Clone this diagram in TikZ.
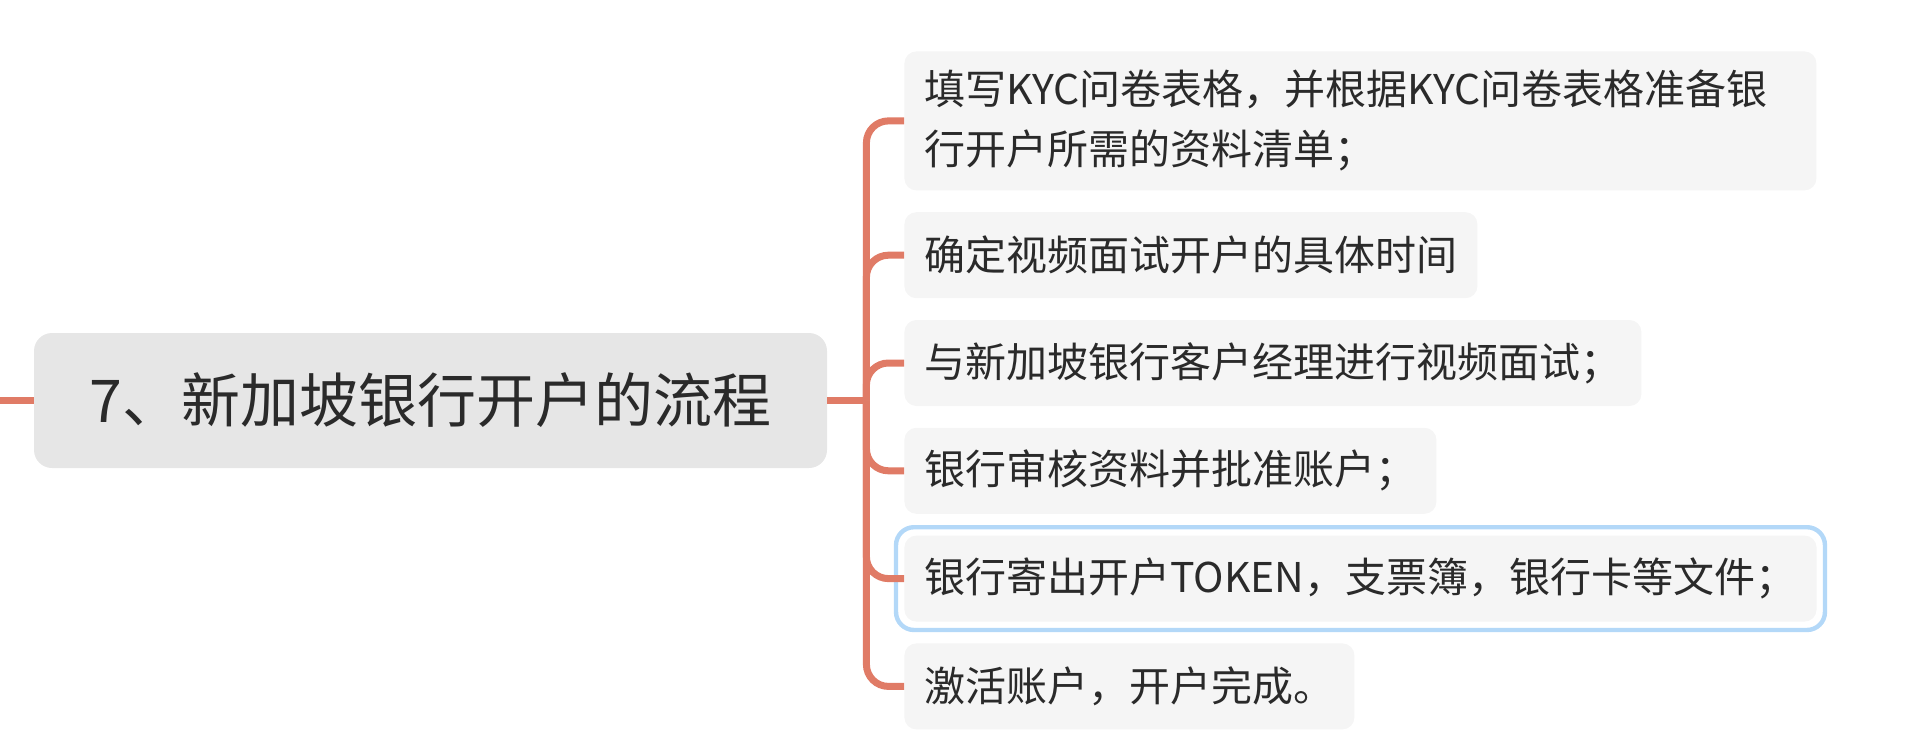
\documentclass[tikz,border=0pt]{standalone}
\usepackage{fontspec}
\usepackage{xcolor}
\usepackage{tikz}
\usetikzlibrary{positioning,fit}
\newfontfamily\cjkfont{Noto Sans CJK SC}
\definecolor{bankSalmon}{HTML}{E07B66}
\definecolor{bankInk}{HTML}{2A2A2A}
\definecolor{bankRoot}{HTML}{E6E6E6}
\definecolor{bankPaper}{HTML}{F5F5F5}
\definecolor{bankFocus}{HTML}{B3D8F8}
\tikzset{
  bankroot/.style={fill=bankRoot,rounded corners=9pt,text=bankInk,
    font=\cjkfont\fontsize{29.5pt}{34pt}\selectfont,
    minimum width=396.5pt,minimum height=67.5pt,inner sep=0pt},
  bankstep/.style={fill=bankPaper,rounded corners=6pt,text=bankInk,align=left,
    font=\cjkfont\fontsize{20.5pt}{30pt}\selectfont,
    inner xsep=10pt,inner ysep=0pt,minimum height=43pt,anchor=north west},
  bankbranch/.style={draw=bankSalmon,line width=3.5pt,rounded corners=11pt},
  bankfocus/.style={draw=bankFocus,line width=2.2pt,rounded corners=9pt,inner sep=4pt}
}

\begin{document}
\begin{tikzpicture}[x=0.5pt,y=-0.5pt,node distance=10.5pt]
    \useasboundingbox (0,0) rectangle (1920,754);
    \node[bankroot] (root) at (430.5,400.5) {7、新加坡银行开户的流程};
    \node[bankstep,text width=436pt,minimum height=69.5pt] (kyc) at (904,51) {
      填写KYC问卷表格，并根据KYC问卷表格准备银\\
      行开户所需的资料清单；};
    \node[bankstep,below=of kyc.south west,anchor=north west] (slot) {确定视频面试开户的具体时间};
    \node[bankstep,below=of slot.south west,anchor=north west] (video) {与新加坡银行客户经理进行视频面试；};
    \node[bankstep,below=of video.south west,anchor=north west] (review) {银行审核资料并批准账户；};
    \node[bankstep,below=of review.south west,anchor=north west] (mail) {银行寄出开户TOKEN，支票簿，银行卡等文件；};
    \node[bankstep,below=of mail.south west,anchor=north west] (done) {激活账户，开户完成。};
    \node[bankfocus,fit=(mail)] (focus) {};
    % spine
    \coordinate[left=17pt of root.west] (stub);
    \coordinate[right=19.5pt of root.east] (hub);
    \draw[bankbranch] (stub) -- (root.west);
    \draw[bankbranch] (root.east) -- (hub);
    \draw[bankbranch] (hub) |- (kyc.west);
    \draw[bankbranch] (hub) |- (slot.west);
    \draw[bankbranch] (hub) |- (video.west);
    \draw[bankbranch] (hub) |- (review.west);
    \draw[bankbranch] (hub) |- (mail.west);
    \draw[bankbranch] (hub) |- (done.west);
  \end{tikzpicture}
\end{document}
